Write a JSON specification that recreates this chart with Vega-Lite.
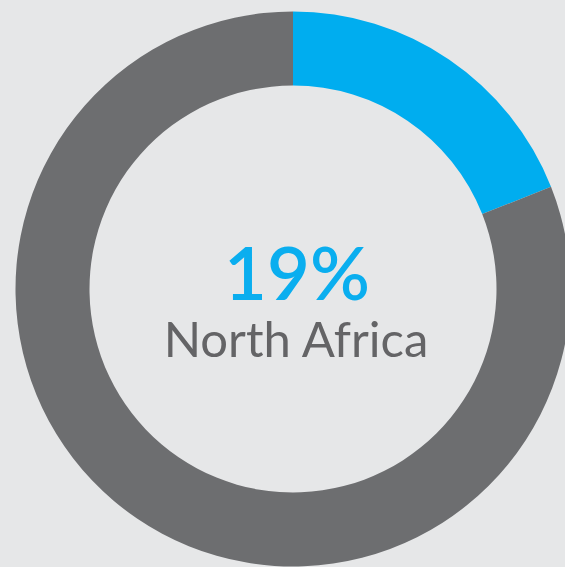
{
  "$schema": "https://vega.github.io/schema/vega-lite/v6.json",
  "width": 586,
  "height": 578,
  "padding": 0,
  "autosize": {"type": "none"},
  "background": "#e6e7e8",
  "config": {"view": {"stroke": null}},
  "datasets": {
    "shares": [
      {"region": "North Africa", "value": 19, "rank": 1},
      {"region": "Rest", "value": 81, "rank": 2}
    ],
    "labels": [
      {"text": "19%", "kind": "value"},
      {"text": "North Africa", "kind": "name"}
    ]
  },
  "layer": [
    {
      "data": {"name": "shares"},
      "mark": {"type": "arc", "radius": 277.5, "innerRadius": 203.5},
      "encoding": {
        "theta": {"field": "value", "type": "quantitative", "stack": true},
        "order": {"field": "rank", "type": "quantitative"},
        "color": {
          "field": "region",
          "type": "nominal",
          "scale": {"domain": ["North Africa", "Rest"], "range": ["#00adef", "#6d6e70"]},
          "legend": null
        }
      }
    },
    {
      "data": {"name": "labels"},
      "transform": [{"filter": "datum.kind == 'value'"}],
      "mark": {"type": "text", "font": "Lato", "fontSize": 74, "fontWeight": 600, "color": "#0aaeef", "baseline": "alphabetic", "align": "center", "dy": 11, "dx": 4},
      "encoding": {"text": {"field": "text"}}
    },
    {
      "data": {"name": "labels"},
      "transform": [{"filter": "datum.kind == 'name'"}],
      "mark": {"type": "text", "font": "Lato", "fontSize": 49, "fontWeight": 400, "color": "#646466", "baseline": "alphabetic", "align": "center", "dy": 68, "dx": 3},
      "encoding": {"text": {"field": "text"}}
    }
  ]
}
